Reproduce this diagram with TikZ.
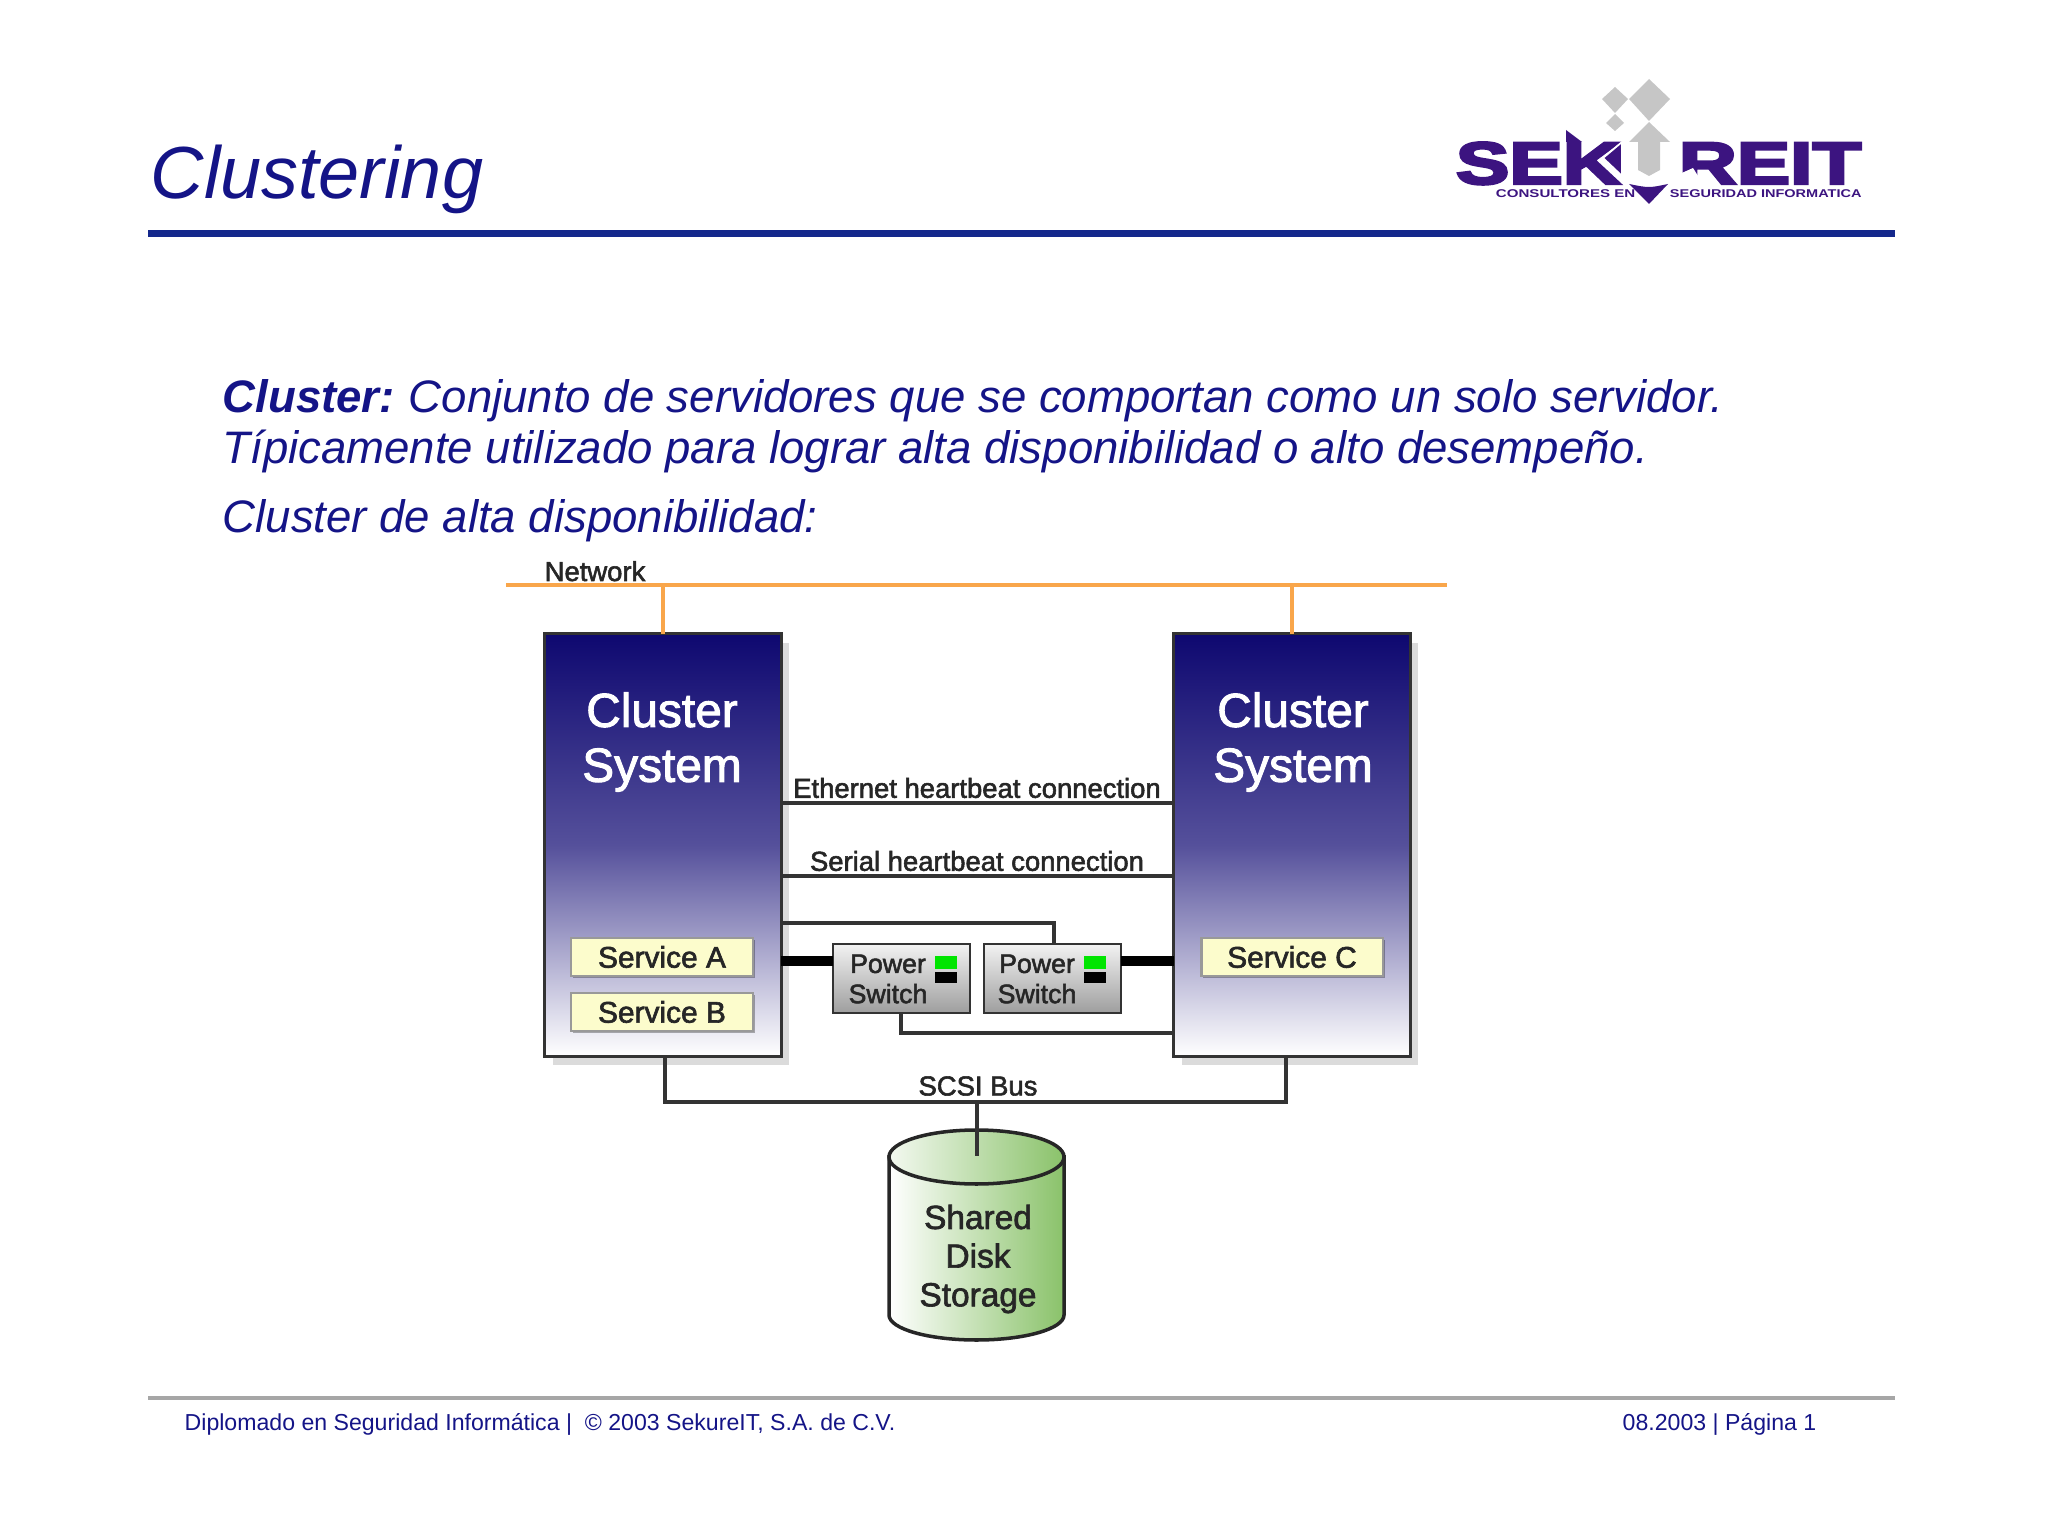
\documentclass[tikz,border=0pt]{standalone}
\usepackage{fontspec}
\setmainfont{Liberation Sans}
\newfontfamily\figfont[FakeBold=2]{Liberation Sans}
\newfontfamily\logofont[FakeBold=4]{Liberation Sans Bold}
\newfontfamily\logosmall{Liberation Sans Bold}
\usetikzlibrary{shadows}
\definecolor{slideblue}{RGB}{20,20,135}
\definecolor{ruleblue}{RGB}{20,40,140}
\definecolor{clusterblue}{RGB}{14,8,112}
\definecolor{clustermid}{RGB}{85,80,155}
\definecolor{netorange}{RGB}{249,166,75}
\definecolor{servicefill}{RGB}{252,252,204}
\definecolor{diskgreen}{RGB}{138,194,106}
\definecolor{logopurple}{RGB}{60,20,128}
\definecolor{logogray}{RGB}{198,198,198}
\tikzset{
  bodytext/.style={anchor=base west,inner sep=0,text=slideblue,font=\fontsize{12.95}{15}\selectfont\itshape},
  figlabel/.style={inner sep=0,text=black!85,align=center,font=\fontsize{7.8}{10}\figfont},
  clusterbox/.style={draw=black!80,line width=0.85pt,inner sep=0,outer sep=0,minimum width=2.36cm,minimum height=4.22cm,
    top color=clusterblue,bottom color=white,middle color=clustermid,
    drop shadow={shadow xshift=0.08cm,shadow yshift=-0.09cm,fill=black,opacity=0.14}},
  servicebox/.style={draw=black!40,line width=0.6pt,fill=servicefill,inner sep=0,outer sep=0,text=black!85,
    minimum height=0.38cm,font=\fontsize{8.5}{10}\figfont,
    drop shadow={shadow xshift=0.02cm,shadow yshift=-0.02cm,fill=black,opacity=0.3}},
  switchbox/.style={draw=black!80,line width=0.8pt,inner sep=0,outer sep=0,minimum width=1.37cm,minimum height=0.69cm,
    top color=black!5,bottom color=black!38},
  wire/.style={draw=black!80,line width=1pt},
  netline/.style={draw=netorange,line width=1pt},
  footertext/.style={inner sep=0,text=slideblue,font=\fontsize{6.57}{8}\selectfont},
  logotext/.style={inner sep=0,text=logopurple,xscale=1.34,transform shape,font=\fontsize{17}{17}\logofont},
  logosub/.style={anchor=base west,inner sep=0,text=logopurple,transform shape,font=\fontsize{3.2}{4}\logosmall}
}
\begin{document}
\begin{tikzpicture}[x=0.01cm,y=-0.01cm]
\useasboundingbox (0,0) rectangle (2048,1534);
%title
\node[anchor=base west,inner sep=0,text=slideblue,font=\fontsize{21}{24}\selectfont\itshape] (title) at (150,199) {Clustering};
\fill[ruleblue] (148,230) rectangle (1895,237);
%logo
\fill[logogray] (1649,79) -- (1670,99) -- (1649,121) -- (1629,99) -- cycle;
\fill[logogray] (1615,87) -- (1628,99) -- (1615,113) -- (1602,99) -- cycle;
\fill[logogray] (1615,114) -- (1624,123) -- (1615,131) -- (1606,123) -- cycle;
\fill[logogray] (1649,122) -- (1670,142) -- (1660,142) -- (1660,170) -- (1649,176) -- (1638,170) -- (1638,142) -- (1629,142) -- cycle;
\node[logotext,anchor=base west] (logoSek) at (1455,184) {SEK};
\node[logotext,anchor=base west] (logoReit) at (1678,184) {REIT};
\fill[logopurple] (1566,130) -- (1582,142) -- (1566,142) -- cycle;
\filldraw[logopurple,draw=white,line width=0.5pt] (1603,158) -- (1622,142) -- (1622,176) -- cycle;
\fill[white] (1675,176) -- (1675,187) -- (1705,187) -- (1693,168) -- cycle;
\fill[logopurple] (1629,184) .. controls (1649,188) .. (1668,184) -- (1649,204) -- cycle;
\node[logosub,xscale=1.34] (logoSubL) at (1495,198) {CONSULTORES EN};
\node[logosub,xscale=1.29] (logoSubR) at (1669,198) {SEGURIDAD INFORMATICA};
%text block
\node[bodytext] (line1) at (222,413) {\textbf{Cluster:}\hspace{-0.8pt} Conjunto de servidores que se comportan como un solo servidor.};
\node[bodytext] (line2) at (222,464) {Típicamente utilizado para lograr alta disponibilidad o alto desempeño.};
\node[bodytext] (line3) at (222,533) {Cluster de alta disponibilidad:};
%network
\node[figlabel,anchor=base west] (netLabel) at (544,581) {Network};
\coordinate (netL) at (506,585);
\coordinate (netR) at (1447,585);
\draw[netline,line width=1.4pt] (netL) -- (netR);
%cluster systems
\node[clusterbox] (clusterL) at (663,845) {};
\node[clusterbox] (clusterR) at (1292,845) {};
\draw[netline] (clusterL.north) -- (clusterL.north |- netL);
\draw[netline] (clusterR.north) -- (clusterR.north |- netL);
\node[figlabel,text=white,font=\fontsize{13.6}{15.6}\figfont] (nameL) at (662,742) {Cluster\\System};
\node[figlabel,text=white,font=\fontsize{13.6}{15.6}\figfont] (nameR) at (1293,742) {Cluster\\System};
%services
\node[servicebox,minimum width=1.82cm] (svcA) at (662,957) {Service A};
\node[servicebox,minimum width=1.82cm] (svcB) at (662,1012) {Service B};
\node[servicebox,minimum width=1.81cm] (svcC) at (1292,957) {Service C};
%heartbeat
\coordinate (ethL) at (781,803);
\coordinate (serL) at (781,876);
\draw[wire] (ethL) -- (clusterR.west |- ethL);
\draw[wire] (serL) -- (clusterR.west |- serL);
\node[figlabel] (ethLabel) at (977,788) {Ethernet heartbeat connection};
\node[figlabel] (serLabel) at (977,861) {Serial heartbeat connection};
%power switches
\node[switchbox] (switchA) at (901.5,978.5) {};
\node[switchbox] (switchB) at (1052.5,978.5) {};
\foreach \n/\x in {A/888,B/1037}
{
  \node[figlabel,font=\fontsize{7.6}{8.6}\figfont] (label\n) at (\x,979) {Power\\Switch};
  \fill[green!90!black] (\x+47,956) rectangle +(22,13);
  \fill[black] (\x+47,972) rectangle +(22,11);
}
\coordinate (loopL) at (781,923);
\coordinate (loopM) at (1054,923);
\coordinate (loopD) at (901,1033);
\draw[wire] (loopL) -- (loopM) -- (loopM |- switchB.north);
\draw[wire] (switchA.south -| loopD) -- (loopD) -- (clusterR.west |- loopD);
\coordinate (powL) at (781,961);
\draw[line width=2.9pt] (powL) -- (switchA.west |- powL);
\draw[line width=2.9pt] (switchB.east |- powL) -- (clusterR.west |- powL);
%scsi bus
\coordinate (scsiL) at (665,1102);
\coordinate (scsiR) at (1286,1102);
\coordinate (scsiM) at (977,1102);
\coordinate (diskIn) at (977,1156);
\draw[wire] (scsiL |- clusterL.south) -- (scsiL) -- (scsiR) -- (scsiR |- clusterR.south);
\node[figlabel] (scsiLabel) at (978,1086) {SCSI Bus};
%disk
\draw[black!85,line width=1pt,left color=white,right color=diskgreen]
  (889,1157) -- (889,1315) arc[start angle=180,end angle=0,x radius=87.5,y radius=25] -- (1064,1157) -- cycle;
\draw[black!85,line width=1pt,left color=white!90!diskgreen,right color=diskgreen]
  (976.5,1157) ellipse[x radius=87.5,y radius=27];
\draw[wire] (scsiM) -- (diskIn);
\node[figlabel,font=\fontsize{9.5}{11}\figfont] (disk) at (978,1259) {Shared\\Disk\\Storage};
%footer
\fill[black!35] (148,1396) rectangle (1895,1400);
\node[footertext,anchor=base west] (footL) at (184,1430) {Diplomado en Seguridad Informática |\ \ © 2003 SekureIT, S.A. de C.V.};
\node[footertext,anchor=base east] (footR) at (1817,1430) {08.2003 | Página 1};
\end{tikzpicture}
\end{document}
